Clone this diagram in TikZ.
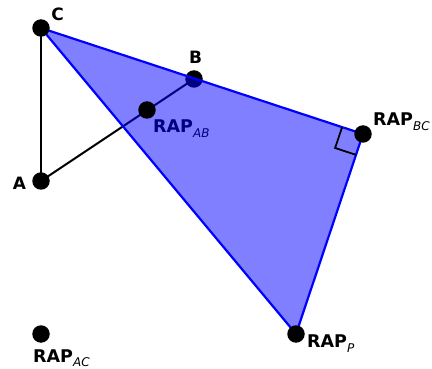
\documentclass[tikz,border=0pt]{standalone}
\usepackage{fontspec}
\setmainfont{DejaVu Sans}
\usetikzlibrary{calc}
\pgfdeclarelayer{bg}
\pgfdeclarelayer{fg}
\pgfsetlayers{bg,main,fg}
\newcommand{\raplabel}[1]{\fontsize{17.5}{20}\selectfont\bfseries RAP\raisebox{-5pt}{\fontsize{12}{13}\selectfont\mdseries\itshape #1}}
\tikzset{
  dot/.style={circle, fill=black, inner sep=0pt, minimum size=17.5pt},
  letter/.style={inner sep=0pt, font=\fontsize{17}{20}\selectfont\bfseries},
  rap/.style={inner sep=0pt, anchor=base west},
  edge/.style={line width=2pt, black},
  blueedge/.style={line width=2.2pt, blue, line join=round},
}
\begin{document}
\begin{tikzpicture}[x=1pt,y=-1pt]
\useasboundingbox (0,0) rectangle (432,369);
\begin{pgfonlayer}{fg}
  \node[dot] (C) at (41,28) {};
  \node[dot] (A) at (41,181) {};
  \node[dot] (rab) at (147,110) {};
  \node[dot] (rbc) at (363,134) {};
  \node[dot] (rp) at (296,334) {};
  \node[dot] (rac) at (41,334) {};
\end{pgfonlayer}
\begin{pgfonlayer}{bg}
  \node[dot] (B) at (194,79) {};
  \draw[edge] (A.center) -- (C.center);
  \draw[edge] (A.center) -- (B.center);
  \node[rap] (lab) at (153,133) {\raplabel{AB}};
\end{pgfonlayer}
\fill[blue, opacity=0.5] (C.center) -- (rbc.center) -- (rp.center) -- cycle;
\draw[blueedge] (C.center) -- (rbc.center) -- (rp.center) -- cycle;
\coordinate (m1) at ($(rbc.center)!22pt!(C.center)$);
\coordinate (m2) at ($(rbc.center)!22pt!(rp.center)$);
\coordinate (m3) at ($(m1)+(m2)-(rbc.center)$);
\draw[line width=1.8pt, black] (m1) -- (m3) -- (m2);
\node[letter] (lC) at (57.5,14) {C};
\node[letter] (lB) at (195.5,57.5) {B};
\node[letter] (lA) at (19.5,183) {A};
\node[rap] (lbc) at (373,126) {\raplabel{BC}};
\node[rap] (lp) at (307,348) {\raplabel{P}};
\node[rap] (lac) at (33,362) {\raplabel{AC}};
\end{tikzpicture}
\end{document}
